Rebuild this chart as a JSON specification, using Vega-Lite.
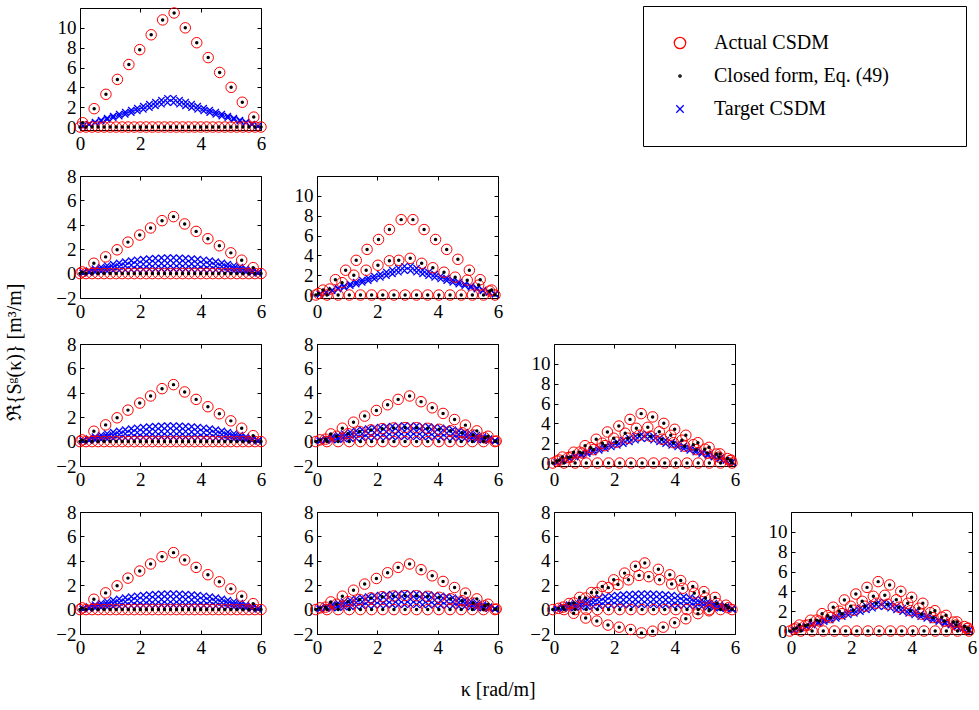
{
"$schema":"https://vega.github.io/schema/vega-lite/v6.json",
"background":"white",
"padding":{"left":5,"top":5,"right":0,"bottom":0},
"title":{"text":"ℜ{Sᵍ(κ)}  [m³/m]","orient":"left","anchor":"middle","offset":30,"font":"Liberation Serif","fontSize":20,"fontWeight":"normal","color":"#000000"},
"datasets":{
"act":[
{"g":"A","k":0.09,"v":0.43},{"g":"A","k":0.47,"v":1.85},{"g":"A","k":0.86,"v":3.3},{"g":"A","k":1.24,"v":4.8},{"g":"A","k":1.62,"v":6.3},{"g":"A","k":1.98,"v":7.8},{"g":"A","k":2.36,"v":9.3},{"g":"A","k":2.74,"v":10.8},{"g":"A","k":3.12,"v":11.5},{"g":"A","k":3.49,"v":10.0},{"g":"A","k":3.87,"v":8.5},{"g":"A","k":4.25,"v":7.0},{"g":"A","k":4.63,"v":5.5},{"g":"A","k":5.01,"v":4.0},{"g":"A","k":5.38,"v":2.5},{"g":"A","k":5.76,"v":1.0},
{"g":"B","k":0.07,"v":0.14},{"g":"B","k":0.46,"v":0.85},{"g":"B","k":0.85,"v":1.37},{"g":"B","k":1.23,"v":1.95},{"g":"B","k":1.59,"v":2.58},{"g":"B","k":1.98,"v":3.16},{"g":"B","k":2.34,"v":3.74},{"g":"B","k":2.72,"v":4.34},{"g":"B","k":3.1,"v":4.67},{"g":"B","k":3.47,"v":4.07},{"g":"B","k":3.85,"v":3.46},{"g":"B","k":4.24,"v":2.86},{"g":"B","k":4.62,"v":2.28},{"g":"B","k":5.0,"v":1.7},{"g":"B","k":5.36,"v":1.1},{"g":"B","k":5.74,"v":0.49},
{"g":"z1","k":0.0,"v":0},{"g":"z1","k":0.2,"v":0},{"g":"z1","k":0.4,"v":0},{"g":"z1","k":0.6,"v":0},{"g":"z1","k":0.8,"v":0},{"g":"z1","k":1.0,"v":0},{"g":"z1","k":1.2,"v":0},{"g":"z1","k":1.4,"v":0},{"g":"z1","k":1.6,"v":0},{"g":"z1","k":1.8,"v":0},{"g":"z1","k":2.0,"v":0},{"g":"z1","k":2.2,"v":0},{"g":"z1","k":2.4,"v":0},{"g":"z1","k":2.6,"v":0},{"g":"z1","k":2.8,"v":0},{"g":"z1","k":3.0,"v":0},{"g":"z1","k":3.2,"v":0},{"g":"z1","k":3.4,"v":0},{"g":"z1","k":3.6,"v":0},{"g":"z1","k":3.8,"v":0},{"g":"z1","k":4.0,"v":0},{"g":"z1","k":4.2,"v":0},{"g":"z1","k":4.4,"v":0},{"g":"z1","k":4.6,"v":0},{"g":"z1","k":4.8,"v":0},{"g":"z1","k":5.0,"v":0},{"g":"z1","k":5.2,"v":0},{"g":"z1","k":5.4,"v":0},{"g":"z1","k":5.6,"v":0},{"g":"z1","k":5.8,"v":0},{"g":"z1","k":6.0,"v":0},
{"g":"C","k":0.2,"v":0.5},{"g":"C","k":0.61,"v":1.55},{"g":"C","k":0.95,"v":2.5},{"g":"C","k":1.3,"v":3.5},{"g":"C","k":1.66,"v":4.6},{"g":"C","k":2.04,"v":5.6},{"g":"C","k":2.4,"v":6.6},{"g":"C","k":2.79,"v":7.6},{"g":"C","k":3.18,"v":7.6},{"g":"C","k":3.55,"v":6.6},{"g":"C","k":3.93,"v":5.6},{"g":"C","k":4.3,"v":4.6},{"g":"C","k":4.67,"v":3.6},{"g":"C","k":5.05,"v":2.5},{"g":"C","k":5.41,"v":1.55},{"g":"C","k":5.79,"v":0.5},
{"g":"C","k":0.05,"v":0.15},{"g":"C","k":0.42,"v":0.6},{"g":"C","k":0.83,"v":1.25},{"g":"C","k":1.22,"v":2.0},{"g":"C","k":1.63,"v":2.5},{"g":"C","k":2.02,"v":3.0},{"g":"C","k":2.4,"v":3.45},{"g":"C","k":2.71,"v":3.5},{"g":"C","k":3.09,"v":3.7},{"g":"C","k":3.47,"v":3.2},{"g":"C","k":3.84,"v":2.75},{"g":"C","k":4.21,"v":2.3},{"g":"C","k":4.58,"v":1.8},{"g":"C","k":4.98,"v":1.5},{"g":"C","k":5.36,"v":1.0},{"g":"C","k":5.72,"v":0.4},
{"g":"D","k":0.1,"v":0.14},{"g":"D","k":0.46,"v":0.63},{"g":"D","k":0.84,"v":1.1},{"g":"D","k":1.21,"v":1.59},{"g":"D","k":1.58,"v":2.09},{"g":"D","k":1.97,"v":2.55},{"g":"D","k":2.34,"v":3.02},{"g":"D","k":2.69,"v":3.46},{"g":"D","k":3.07,"v":3.74},{"g":"D","k":3.45,"v":3.27},{"g":"D","k":3.82,"v":2.77},{"g":"D","k":4.18,"v":2.31},{"g":"D","k":4.56,"v":1.81},{"g":"D","k":4.92,"v":1.35},{"g":"D","k":5.3,"v":0.88},{"g":"D","k":5.67,"v":0.44},
{"g":"D","k":0.28,"v":0.2},{"g":"D","k":0.65,"v":0.44},{"g":"D","k":1.03,"v":0.65},{"g":"D","k":1.41,"v":0.83},{"g":"D","k":1.79,"v":0.96},{"g":"D","k":2.16,"v":1.06},{"g":"D","k":2.54,"v":1.12},{"g":"D","k":2.92,"v":1.15},{"g":"D","k":3.3,"v":1.14},{"g":"D","k":3.67,"v":1.09},{"g":"D","k":4.05,"v":1.01},{"g":"D","k":4.43,"v":0.89},{"g":"D","k":4.81,"v":0.73},{"g":"D","k":5.18,"v":0.54},{"g":"D","k":5.56,"v":0.31},{"g":"D","k":5.94,"v":0.05},
{"g":"E","k":0.28,"v":0.6},{"g":"E","k":0.65,"v":1.09},{"g":"E","k":1.03,"v":1.75},{"g":"E","k":1.4,"v":2.4},{"g":"E","k":1.77,"v":3.13},{"g":"E","k":2.15,"v":3.73},{"g":"E","k":2.52,"v":4.4},{"g":"E","k":2.89,"v":4.98},{"g":"E","k":3.27,"v":4.65},{"g":"E","k":3.64,"v":4.0},{"g":"E","k":4.0,"v":3.4},{"g":"E","k":4.37,"v":2.8},{"g":"E","k":4.77,"v":2.05},{"g":"E","k":5.14,"v":1.58},{"g":"E","k":5.5,"v":0.92},{"g":"E","k":5.87,"v":0.3},
{"g":"E","k":0.09,"v":0.2},{"g":"E","k":0.47,"v":0.55},{"g":"E","k":0.85,"v":1.1},{"g":"E","k":1.22,"v":1.55},{"g":"E","k":1.6,"v":2.0},{"g":"E","k":1.98,"v":2.5},{"g":"E","k":2.36,"v":3.0},{"g":"E","k":2.73,"v":3.5},{"g":"E","k":3.11,"v":3.6},{"g":"E","k":3.49,"v":3.15},{"g":"E","k":3.87,"v":2.8},{"g":"E","k":4.24,"v":2.3},{"g":"E","k":4.62,"v":1.85},{"g":"E","k":5.0,"v":1.4},{"g":"E","k":5.38,"v":0.9},{"g":"E","k":5.75,"v":0.45},
{"g":"E","k":0.18,"v":0.3},{"g":"E","k":0.56,"v":0.6},{"g":"E","k":0.94,"v":1.0},{"g":"E","k":1.31,"v":1.35},{"g":"E","k":1.69,"v":1.75},{"g":"E","k":2.07,"v":2.1},{"g":"E","k":2.45,"v":2.5},{"g":"E","k":2.82,"v":2.8},{"g":"E","k":3.2,"v":2.7},{"g":"E","k":3.58,"v":2.4},{"g":"E","k":3.96,"v":2.05},{"g":"E","k":4.33,"v":1.7},{"g":"E","k":4.71,"v":1.35},{"g":"E","k":5.09,"v":1.0},{"g":"E","k":5.47,"v":0.6},{"g":"E","k":5.84,"v":0.25},
{"g":"F","k":0.15,"v":0.1},{"g":"F","k":0.5,"v":0.5},{"g":"F","k":0.85,"v":1.0},{"g":"F","k":1.24,"v":1.4},{"g":"F","k":1.6,"v":1.9},{"g":"F","k":1.98,"v":2.44},{"g":"F","k":2.34,"v":2.99},{"g":"F","k":2.7,"v":3.55},{"g":"F","k":3.01,"v":3.82},{"g":"F","k":3.46,"v":3.3},{"g":"F","k":3.84,"v":2.85},{"g":"F","k":4.2,"v":2.38},{"g":"F","k":4.6,"v":1.9},{"g":"F","k":4.97,"v":1.47},{"g":"F","k":5.34,"v":1.0},{"g":"F","k":5.7,"v":0.36},
{"g":"F","k":0.3,"v":0.2},{"g":"F","k":0.66,"v":0.55},{"g":"F","k":1.05,"v":0.95},{"g":"F","k":1.42,"v":1.4},{"g":"F","k":1.8,"v":1.8},{"g":"F","k":2.12,"v":2.05},{"g":"F","k":2.47,"v":2.44},{"g":"F","k":2.82,"v":2.8},{"g":"F","k":3.14,"v":2.7},{"g":"F","k":3.5,"v":2.45},{"g":"F","k":3.9,"v":2.1},{"g":"F","k":4.27,"v":1.75},{"g":"F","k":4.65,"v":1.35},{"g":"F","k":5.02,"v":0.95},{"g":"F","k":5.4,"v":0.5},{"g":"F","k":5.78,"v":0.15},
{"g":"F","k":0.65,"v":-0.3},{"g":"F","k":1.05,"v":-0.69},{"g":"F","k":1.42,"v":-0.94},{"g":"F","k":1.79,"v":-1.27},{"g":"F","k":2.16,"v":-1.44},{"g":"F","k":2.54,"v":-1.63},{"g":"F","k":2.9,"v":-1.91},{"g":"F","k":3.27,"v":-1.77},{"g":"F","k":3.62,"v":-1.44},{"g":"F","k":4.0,"v":-1.08},{"g":"F","k":4.37,"v":-0.75},{"g":"F","k":4.77,"v":-0.33},{"g":"F","k":5.14,"v":-0.1},
{"g":"z2","k":-0.04,"v":0},{"g":"z2","k":0.33,"v":0},{"g":"z2","k":0.7,"v":0},{"g":"z2","k":1.07,"v":0},{"g":"z2","k":1.44,"v":0},{"g":"z2","k":1.81,"v":0},{"g":"z2","k":2.18,"v":0},{"g":"z2","k":2.55,"v":0},{"g":"z2","k":2.92,"v":0},{"g":"z2","k":3.3,"v":0},{"g":"z2","k":3.67,"v":0},{"g":"z2","k":4.04,"v":0},{"g":"z2","k":4.41,"v":0},{"g":"z2","k":4.78,"v":0},{"g":"z2","k":5.15,"v":0},{"g":"z2","k":5.52,"v":0},{"g":"z2","k":5.9,"v":0}
],
"tgt":[
{"g":"tri","k":0.1,"v":0.1},{"g":"tri","k":0.3,"v":0.3},{"g":"tri","k":0.5,"v":0.5},{"g":"tri","k":0.7,"v":0.7},{"g":"tri","k":0.9,"v":0.9},{"g":"tri","k":1.1,"v":1.1},{"g":"tri","k":1.3,"v":1.3},{"g":"tri","k":1.5,"v":1.5},{"g":"tri","k":1.7,"v":1.7},{"g":"tri","k":1.9,"v":1.9},{"g":"tri","k":2.1,"v":2.1},{"g":"tri","k":2.3,"v":2.3},{"g":"tri","k":2.5,"v":2.5},{"g":"tri","k":2.7,"v":2.7},{"g":"tri","k":2.9,"v":2.9},{"g":"tri","k":3.1,"v":2.9},{"g":"tri","k":3.3,"v":2.7},{"g":"tri","k":3.5,"v":2.5},{"g":"tri","k":3.7,"v":2.3},{"g":"tri","k":3.9,"v":2.1},{"g":"tri","k":4.1,"v":1.9},{"g":"tri","k":4.3,"v":1.7},{"g":"tri","k":4.5,"v":1.5},{"g":"tri","k":4.7,"v":1.3},{"g":"tri","k":4.9,"v":1.1},{"g":"tri","k":5.1,"v":0.9},{"g":"tri","k":5.3,"v":0.7},{"g":"tri","k":5.5,"v":0.5},{"g":"tri","k":5.7,"v":0.3},{"g":"tri","k":5.9,"v":0.1},
{"g":"tri","k":0.1,"v":0.09},{"g":"tri","k":0.3,"v":0.26},{"g":"tri","k":0.5,"v":0.43},{"g":"tri","k":0.7,"v":0.6},{"g":"tri","k":0.9,"v":0.77},{"g":"tri","k":1.1,"v":0.94},{"g":"tri","k":1.3,"v":1.11},{"g":"tri","k":1.5,"v":1.28},{"g":"tri","k":1.7,"v":1.45},{"g":"tri","k":1.9,"v":1.62},{"g":"tri","k":2.1,"v":1.79},{"g":"tri","k":2.3,"v":1.96},{"g":"tri","k":2.5,"v":2.13},{"g":"tri","k":2.7,"v":2.3},{"g":"tri","k":2.9,"v":2.47},{"g":"tri","k":3.1,"v":2.47},{"g":"tri","k":3.3,"v":2.3},{"g":"tri","k":3.5,"v":2.13},{"g":"tri","k":3.7,"v":1.96},{"g":"tri","k":3.9,"v":1.79},{"g":"tri","k":4.1,"v":1.62},{"g":"tri","k":4.3,"v":1.45},{"g":"tri","k":4.5,"v":1.28},{"g":"tri","k":4.7,"v":1.11},{"g":"tri","k":4.9,"v":0.94},{"g":"tri","k":5.1,"v":0.77},{"g":"tri","k":5.3,"v":0.6},{"g":"tri","k":5.5,"v":0.43},{"g":"tri","k":5.7,"v":0.26},{"g":"tri","k":5.9,"v":0.09},
{"g":"dome","k":0.1,"v":0.09},{"g":"dome","k":0.3,"v":0.25},{"g":"dome","k":0.5,"v":0.4},{"g":"dome","k":0.7,"v":0.54},{"g":"dome","k":0.9,"v":0.66},{"g":"dome","k":1.1,"v":0.78},{"g":"dome","k":1.3,"v":0.88},{"g":"dome","k":1.5,"v":0.98},{"g":"dome","k":1.7,"v":1.06},{"g":"dome","k":1.9,"v":1.13},{"g":"dome","k":2.1,"v":1.18},{"g":"dome","k":2.3,"v":1.23},{"g":"dome","k":2.5,"v":1.26},{"g":"dome","k":2.7,"v":1.29},{"g":"dome","k":2.9,"v":1.3},{"g":"dome","k":3.1,"v":1.3},{"g":"dome","k":3.3,"v":1.29},{"g":"dome","k":3.5,"v":1.26},{"g":"dome","k":3.7,"v":1.23},{"g":"dome","k":3.9,"v":1.18},{"g":"dome","k":4.1,"v":1.13},{"g":"dome","k":4.3,"v":1.06},{"g":"dome","k":4.5,"v":0.98},{"g":"dome","k":4.7,"v":0.88},{"g":"dome","k":4.9,"v":0.78},{"g":"dome","k":5.1,"v":0.66},{"g":"dome","k":5.3,"v":0.54},{"g":"dome","k":5.5,"v":0.4},{"g":"dome","k":5.7,"v":0.25},{"g":"dome","k":5.9,"v":0.09},
{"g":"dome","k":0.1,"v":0.06},{"g":"dome","k":0.3,"v":0.16},{"g":"dome","k":0.5,"v":0.26},{"g":"dome","k":0.7,"v":0.35},{"g":"dome","k":0.9,"v":0.43},{"g":"dome","k":1.1,"v":0.51},{"g":"dome","k":1.3,"v":0.58},{"g":"dome","k":1.5,"v":0.64},{"g":"dome","k":1.7,"v":0.69},{"g":"dome","k":1.9,"v":0.74},{"g":"dome","k":2.1,"v":0.77},{"g":"dome","k":2.3,"v":0.8},{"g":"dome","k":2.5,"v":0.83},{"g":"dome","k":2.7,"v":0.84},{"g":"dome","k":2.9,"v":0.85},{"g":"dome","k":3.1,"v":0.85},{"g":"dome","k":3.3,"v":0.84},{"g":"dome","k":3.5,"v":0.83},{"g":"dome","k":3.7,"v":0.8},{"g":"dome","k":3.9,"v":0.77},{"g":"dome","k":4.1,"v":0.74},{"g":"dome","k":4.3,"v":0.69},{"g":"dome","k":4.5,"v":0.64},{"g":"dome","k":4.7,"v":0.58},{"g":"dome","k":4.9,"v":0.51},{"g":"dome","k":5.1,"v":0.43},{"g":"dome","k":5.3,"v":0.35},{"g":"dome","k":5.5,"v":0.26},{"g":"dome","k":5.7,"v":0.16},{"g":"dome","k":5.9,"v":0.06},
{"g":"dome","k":0.1,"v":0.03},{"g":"dome","k":0.3,"v":0.08},{"g":"dome","k":0.5,"v":0.12},{"g":"dome","k":0.7,"v":0.16},{"g":"dome","k":0.9,"v":0.2},{"g":"dome","k":1.1,"v":0.24},{"g":"dome","k":1.3,"v":0.27},{"g":"dome","k":1.5,"v":0.3},{"g":"dome","k":1.7,"v":0.32},{"g":"dome","k":1.9,"v":0.35},{"g":"dome","k":2.1,"v":0.36},{"g":"dome","k":2.3,"v":0.38},{"g":"dome","k":2.5,"v":0.39},{"g":"dome","k":2.7,"v":0.4},{"g":"dome","k":2.9,"v":0.4},{"g":"dome","k":3.1,"v":0.4},{"g":"dome","k":3.3,"v":0.4},{"g":"dome","k":3.5,"v":0.39},{"g":"dome","k":3.7,"v":0.38},{"g":"dome","k":3.9,"v":0.36},{"g":"dome","k":4.1,"v":0.35},{"g":"dome","k":4.3,"v":0.32},{"g":"dome","k":4.5,"v":0.3},{"g":"dome","k":4.7,"v":0.27},{"g":"dome","k":4.9,"v":0.24},{"g":"dome","k":5.1,"v":0.2},{"g":"dome","k":5.3,"v":0.16},{"g":"dome","k":5.5,"v":0.12},{"g":"dome","k":5.7,"v":0.08},{"g":"dome","k":5.9,"v":0.03}
]
},
"vconcat":[
{"title":{"text":"κ [rad/m]","orient":"bottom","anchor":"middle","offset":22,"dx":-18,"font":"Liberation Serif","fontSize":20,"fontWeight":"normal","color":"#000000"},
"columns":4,"spacing":{"row":46,"column":56},"bounds":"flush","align":"all",
"concat":[
{"width":181,"height":122,"layer":[
 {"data":{"name":"tgt"},"transform":[{"filter":"datum.g==='tri'"}],"mark":{"type":"point","shape":"M-1,-1L1,1M-1,1L1,-1","filled":false,"size":40,"strokeWidth":1.3,"color":"#0000ff"},
  "encoding":{"x":{"field":"k","type":"quantitative","scale":{"domain":[0,6]},"axis":null},"y":{"field":"v","type":"quantitative","scale":{"domain":[-0.3,12]},"axis":null}}},
 {"data":{"name":"act"},"transform":[{"filter":"datum.g==='A'||datum.g==='z1'"}],"mark":{"type":"point","filled":false,"size":110,"strokeWidth":1},
  "encoding":{"x":{"field":"k","type":"quantitative","scale":{"domain":[0,6]},"axis":{"values":[0,2,4,6],"title":null}},"y":{"field":"v","type":"quantitative","scale":{"domain":[-0.3,12]},"axis":{"values":[0,2,4,6,8,10],"title":null}},
  "color":{"datum":"Actual CSDM","type":"nominal","scale":{"domain":["Actual CSDM","Closed form, Eq. (49)","Target CSDM"],"range":["#ff0000","#000000","#0000ff"]},
   "legend":{"orient":"none","legendX":563,"legendY":-2,"title":" ","titleOrient":"right","titlePadding":50,"titleFontSize":10,"padding":27,"strokeColor":"#000000","fillColor":"#ffffff","labelFont":"Liberation Serif","labelFontSize":20,"labelColor":"#000000","labelOffset":24,"labelLimit":500,"rowPadding":13,"symbolStrokeWidth":1.3,"symbolSize":130}},
  "shape":{"datum":"Actual CSDM","type":"nominal","scale":{"domain":["Actual CSDM","Closed form, Eq. (49)","Target CSDM"],"range":["circle","M0,-0.2A0.2,0.2,0,1,1,0,0.2A0.2,0.2,0,1,1,0,-0.2Z","M-0.65,-0.65L0.65,0.65M-0.65,0.65L0.65,-0.65"]},
   "legend":{"orient":"none","legendX":563,"legendY":-2,"title":" ","titleOrient":"right","titlePadding":50,"titleFontSize":10,"padding":27,"strokeColor":"#000000","fillColor":"#ffffff","labelFont":"Liberation Serif","labelFontSize":20,"labelColor":"#000000","labelOffset":24,"labelLimit":500,"rowPadding":13,"symbolStrokeWidth":1.3,"symbolSize":130}}}},
 {"data":{"name":"act"},"transform":[{"filter":"datum.g==='A'||datum.g==='z1'"}],"mark":{"type":"point","shape":"circle","filled":true,"size":12,"color":"#000000"},
  "encoding":{"x":{"field":"k","type":"quantitative","scale":{"domain":[0,6]},"axis":{"orient":"top","values":[0,2,4,6],"labels":false,"title":null}},"y":{"field":"v","type":"quantitative","scale":{"domain":[-0.3,12]},"axis":{"orient":"right","values":[0,2,4,6,8,10],"labels":false,"title":null}}}}
],"resolve":{"axis":{"x":"independent","y":"independent"}}},
{"width":181,"height":122,"data":{"values":[]},"mark":"point","view":{"stroke":null}},
{"width":181,"height":122,"data":{"values":[]},"mark":"point","view":{"stroke":null}},
{"width":181,"height":122,"data":{"values":[]},"mark":"point","view":{"stroke":null}},
{"width":181,"height":122,"layer":[
 {"data":{"name":"tgt"},"transform":[{"filter":"datum.g==='dome'"}],"mark":{"type":"point","shape":"M-1,-1L1,1M-1,1L1,-1","filled":false,"size":40,"strokeWidth":1.3,"color":"#0000ff"},
  "encoding":{"x":{"field":"k","type":"quantitative","scale":{"domain":[0,6]},"axis":null},"y":{"field":"v","type":"quantitative","scale":{"domain":[-2,8]},"axis":null}}},
 {"data":{"name":"act"},"transform":[{"filter":"datum.g==='B'||datum.g==='z1'"}],"mark":{"type":"point","shape":"circle","filled":false,"size":110,"strokeWidth":1,"color":"#ff0000"},
  "encoding":{"x":{"field":"k","type":"quantitative","scale":{"domain":[0,6]},"axis":{"values":[0,2,4,6],"title":null}},"y":{"field":"v","type":"quantitative","scale":{"domain":[-2,8]},"axis":{"values":[-2,0,2,4,6,8],"title":null}}}},
 {"data":{"name":"act"},"transform":[{"filter":"datum.g==='B'||datum.g==='z1'"}],"mark":{"type":"point","shape":"circle","filled":true,"size":12,"color":"#000000"},
  "encoding":{"x":{"field":"k","type":"quantitative","scale":{"domain":[0,6]},"axis":{"orient":"top","values":[0,2,4,6],"labels":false,"title":null}},"y":{"field":"v","type":"quantitative","scale":{"domain":[-2,8]},"axis":{"orient":"right","values":[-2,0,2,4,6,8],"labels":false,"title":null}}}}
],"resolve":{"axis":{"x":"independent","y":"independent"}}},
{"width":181,"height":122,"layer":[
 {"data":{"name":"tgt"},"transform":[{"filter":"datum.g==='tri'"}],"mark":{"type":"point","shape":"M-1,-1L1,1M-1,1L1,-1","filled":false,"size":40,"strokeWidth":1.3,"color":"#0000ff"},
  "encoding":{"x":{"field":"k","type":"quantitative","scale":{"domain":[0,6]},"axis":null},"y":{"field":"v","type":"quantitative","scale":{"domain":[-0.3,12]},"axis":null}}},
 {"data":{"name":"act"},"transform":[{"filter":"datum.g==='C'||datum.g==='z2'"}],"mark":{"type":"point","shape":"circle","filled":false,"size":110,"strokeWidth":1,"color":"#ff0000"},
  "encoding":{"x":{"field":"k","type":"quantitative","scale":{"domain":[0,6]},"axis":{"values":[0,2,4,6],"title":null}},"y":{"field":"v","type":"quantitative","scale":{"domain":[-0.3,12]},"axis":{"values":[0,2,4,6,8,10],"title":null}}}},
 {"data":{"name":"act"},"transform":[{"filter":"datum.g==='C'||datum.g==='z2'"}],"mark":{"type":"point","shape":"circle","filled":true,"size":12,"color":"#000000"},
  "encoding":{"x":{"field":"k","type":"quantitative","scale":{"domain":[0,6]},"axis":{"orient":"top","values":[0,2,4,6],"labels":false,"title":null}},"y":{"field":"v","type":"quantitative","scale":{"domain":[-0.3,12]},"axis":{"orient":"right","values":[0,2,4,6,8,10],"labels":false,"title":null}}}}
],"resolve":{"axis":{"x":"independent","y":"independent"}}},
{"width":181,"height":122,"data":{"values":[]},"mark":"point","view":{"stroke":null}},
{"width":181,"height":122,"data":{"values":[]},"mark":"point","view":{"stroke":null}},
{"width":181,"height":122,"layer":[
 {"data":{"name":"tgt"},"transform":[{"filter":"datum.g==='dome'"}],"mark":{"type":"point","shape":"M-1,-1L1,1M-1,1L1,-1","filled":false,"size":40,"strokeWidth":1.3,"color":"#0000ff"},
  "encoding":{"x":{"field":"k","type":"quantitative","scale":{"domain":[0,6]},"axis":null},"y":{"field":"v","type":"quantitative","scale":{"domain":[-2,8]},"axis":null}}},
 {"data":{"name":"act"},"transform":[{"filter":"datum.g==='B'||datum.g==='z1'"}],"mark":{"type":"point","shape":"circle","filled":false,"size":110,"strokeWidth":1,"color":"#ff0000"},
  "encoding":{"x":{"field":"k","type":"quantitative","scale":{"domain":[0,6]},"axis":{"values":[0,2,4,6],"title":null}},"y":{"field":"v","type":"quantitative","scale":{"domain":[-2,8]},"axis":{"values":[-2,0,2,4,6,8],"title":null}}}},
 {"data":{"name":"act"},"transform":[{"filter":"datum.g==='B'||datum.g==='z1'"}],"mark":{"type":"point","shape":"circle","filled":true,"size":12,"color":"#000000"},
  "encoding":{"x":{"field":"k","type":"quantitative","scale":{"domain":[0,6]},"axis":{"orient":"top","values":[0,2,4,6],"labels":false,"title":null}},"y":{"field":"v","type":"quantitative","scale":{"domain":[-2,8]},"axis":{"orient":"right","values":[-2,0,2,4,6,8],"labels":false,"title":null}}}}
],"resolve":{"axis":{"x":"independent","y":"independent"}}},
{"width":181,"height":122,"layer":[
 {"data":{"name":"tgt"},"transform":[{"filter":"datum.g==='dome'"}],"mark":{"type":"point","shape":"M-1,-1L1,1M-1,1L1,-1","filled":false,"size":40,"strokeWidth":1.3,"color":"#0000ff"},
  "encoding":{"x":{"field":"k","type":"quantitative","scale":{"domain":[0,6]},"axis":null},"y":{"field":"v","type":"quantitative","scale":{"domain":[-2,8]},"axis":null}}},
 {"data":{"name":"act"},"transform":[{"filter":"datum.g==='D'||datum.g==='z2'"}],"mark":{"type":"point","shape":"circle","filled":false,"size":110,"strokeWidth":1,"color":"#ff0000"},
  "encoding":{"x":{"field":"k","type":"quantitative","scale":{"domain":[0,6]},"axis":{"values":[0,2,4,6],"title":null}},"y":{"field":"v","type":"quantitative","scale":{"domain":[-2,8]},"axis":{"values":[-2,0,2,4,6,8],"title":null}}}},
 {"data":{"name":"act"},"transform":[{"filter":"datum.g==='D'||datum.g==='z2'"}],"mark":{"type":"point","shape":"circle","filled":true,"size":12,"color":"#000000"},
  "encoding":{"x":{"field":"k","type":"quantitative","scale":{"domain":[0,6]},"axis":{"orient":"top","values":[0,2,4,6],"labels":false,"title":null}},"y":{"field":"v","type":"quantitative","scale":{"domain":[-2,8]},"axis":{"orient":"right","values":[-2,0,2,4,6,8],"labels":false,"title":null}}}}
],"resolve":{"axis":{"x":"independent","y":"independent"}}},
{"width":181,"height":122,"layer":[
 {"data":{"name":"tgt"},"transform":[{"filter":"datum.g==='tri'"}],"mark":{"type":"point","shape":"M-1,-1L1,1M-1,1L1,-1","filled":false,"size":40,"strokeWidth":1.3,"color":"#0000ff"},
  "encoding":{"x":{"field":"k","type":"quantitative","scale":{"domain":[0,6]},"axis":null},"y":{"field":"v","type":"quantitative","scale":{"domain":[-0.3,12]},"axis":null}}},
 {"data":{"name":"act"},"transform":[{"filter":"datum.g==='E'||datum.g==='z2'"}],"mark":{"type":"point","shape":"circle","filled":false,"size":110,"strokeWidth":1,"color":"#ff0000"},
  "encoding":{"x":{"field":"k","type":"quantitative","scale":{"domain":[0,6]},"axis":{"values":[0,2,4,6],"title":null}},"y":{"field":"v","type":"quantitative","scale":{"domain":[-0.3,12]},"axis":{"values":[0,2,4,6,8,10],"title":null}}}},
 {"data":{"name":"act"},"transform":[{"filter":"datum.g==='E'||datum.g==='z2'"}],"mark":{"type":"point","shape":"circle","filled":true,"size":12,"color":"#000000"},
  "encoding":{"x":{"field":"k","type":"quantitative","scale":{"domain":[0,6]},"axis":{"orient":"top","values":[0,2,4,6],"labels":false,"title":null}},"y":{"field":"v","type":"quantitative","scale":{"domain":[-0.3,12]},"axis":{"orient":"right","values":[0,2,4,6,8,10],"labels":false,"title":null}}}}
],"resolve":{"axis":{"x":"independent","y":"independent"}}},
{"width":181,"height":122,"data":{"values":[]},"mark":"point","view":{"stroke":null}},
{"width":181,"height":122,"layer":[
 {"data":{"name":"tgt"},"transform":[{"filter":"datum.g==='dome'"}],"mark":{"type":"point","shape":"M-1,-1L1,1M-1,1L1,-1","filled":false,"size":40,"strokeWidth":1.3,"color":"#0000ff"},
  "encoding":{"x":{"field":"k","type":"quantitative","scale":{"domain":[0,6]},"axis":null},"y":{"field":"v","type":"quantitative","scale":{"domain":[-2,8]},"axis":null}}},
 {"data":{"name":"act"},"transform":[{"filter":"datum.g==='B'||datum.g==='z1'"}],"mark":{"type":"point","shape":"circle","filled":false,"size":110,"strokeWidth":1,"color":"#ff0000"},
  "encoding":{"x":{"field":"k","type":"quantitative","scale":{"domain":[0,6]},"axis":{"values":[0,2,4,6],"title":null}},"y":{"field":"v","type":"quantitative","scale":{"domain":[-2,8]},"axis":{"values":[-2,0,2,4,6,8],"title":null}}}},
 {"data":{"name":"act"},"transform":[{"filter":"datum.g==='B'||datum.g==='z1'"}],"mark":{"type":"point","shape":"circle","filled":true,"size":12,"color":"#000000"},
  "encoding":{"x":{"field":"k","type":"quantitative","scale":{"domain":[0,6]},"axis":{"orient":"top","values":[0,2,4,6],"labels":false,"title":null}},"y":{"field":"v","type":"quantitative","scale":{"domain":[-2,8]},"axis":{"orient":"right","values":[-2,0,2,4,6,8],"labels":false,"title":null}}}}
],"resolve":{"axis":{"x":"independent","y":"independent"}}},
{"width":181,"height":122,"layer":[
 {"data":{"name":"tgt"},"transform":[{"filter":"datum.g==='dome'"}],"mark":{"type":"point","shape":"M-1,-1L1,1M-1,1L1,-1","filled":false,"size":40,"strokeWidth":1.3,"color":"#0000ff"},
  "encoding":{"x":{"field":"k","type":"quantitative","scale":{"domain":[0,6]},"axis":null},"y":{"field":"v","type":"quantitative","scale":{"domain":[-2,8]},"axis":null}}},
 {"data":{"name":"act"},"transform":[{"filter":"datum.g==='D'||datum.g==='z2'"}],"mark":{"type":"point","shape":"circle","filled":false,"size":110,"strokeWidth":1,"color":"#ff0000"},
  "encoding":{"x":{"field":"k","type":"quantitative","scale":{"domain":[0,6]},"axis":{"values":[0,2,4,6],"title":null}},"y":{"field":"v","type":"quantitative","scale":{"domain":[-2,8]},"axis":{"values":[-2,0,2,4,6,8],"title":null}}}},
 {"data":{"name":"act"},"transform":[{"filter":"datum.g==='D'||datum.g==='z2'"}],"mark":{"type":"point","shape":"circle","filled":true,"size":12,"color":"#000000"},
  "encoding":{"x":{"field":"k","type":"quantitative","scale":{"domain":[0,6]},"axis":{"orient":"top","values":[0,2,4,6],"labels":false,"title":null}},"y":{"field":"v","type":"quantitative","scale":{"domain":[-2,8]},"axis":{"orient":"right","values":[-2,0,2,4,6,8],"labels":false,"title":null}}}}
],"resolve":{"axis":{"x":"independent","y":"independent"}}},
{"width":181,"height":122,"layer":[
 {"data":{"name":"tgt"},"transform":[{"filter":"datum.g==='dome'"}],"mark":{"type":"point","shape":"M-1,-1L1,1M-1,1L1,-1","filled":false,"size":40,"strokeWidth":1.3,"color":"#0000ff"},
  "encoding":{"x":{"field":"k","type":"quantitative","scale":{"domain":[0,6]},"axis":null},"y":{"field":"v","type":"quantitative","scale":{"domain":[-2,8]},"axis":null}}},
 {"data":{"name":"act"},"transform":[{"filter":"datum.g==='F'||datum.g==='z2'"}],"mark":{"type":"point","shape":"circle","filled":false,"size":110,"strokeWidth":1,"color":"#ff0000"},
  "encoding":{"x":{"field":"k","type":"quantitative","scale":{"domain":[0,6]},"axis":{"values":[0,2,4,6],"title":null}},"y":{"field":"v","type":"quantitative","scale":{"domain":[-2,8]},"axis":{"values":[-2,0,2,4,6,8],"title":null}}}},
 {"data":{"name":"act"},"transform":[{"filter":"datum.g==='F'||datum.g==='z2'"}],"mark":{"type":"point","shape":"circle","filled":true,"size":12,"color":"#000000"},
  "encoding":{"x":{"field":"k","type":"quantitative","scale":{"domain":[0,6]},"axis":{"orient":"top","values":[0,2,4,6],"labels":false,"title":null}},"y":{"field":"v","type":"quantitative","scale":{"domain":[-2,8]},"axis":{"orient":"right","values":[-2,0,2,4,6,8],"labels":false,"title":null}}}}
],"resolve":{"axis":{"x":"independent","y":"independent"}}},
{"width":181,"height":122,"layer":[
 {"data":{"name":"tgt"},"transform":[{"filter":"datum.g==='tri'"}],"mark":{"type":"point","shape":"M-1,-1L1,1M-1,1L1,-1","filled":false,"size":40,"strokeWidth":1.3,"color":"#0000ff"},
  "encoding":{"x":{"field":"k","type":"quantitative","scale":{"domain":[0,6]},"axis":null},"y":{"field":"v","type":"quantitative","scale":{"domain":[-0.3,12]},"axis":null}}},
 {"data":{"name":"act"},"transform":[{"filter":"datum.g==='E'||datum.g==='z2'"}],"mark":{"type":"point","shape":"circle","filled":false,"size":110,"strokeWidth":1,"color":"#ff0000"},
  "encoding":{"x":{"field":"k","type":"quantitative","scale":{"domain":[0,6]},"axis":{"values":[0,2,4,6],"title":null}},"y":{"field":"v","type":"quantitative","scale":{"domain":[-0.3,12]},"axis":{"values":[0,2,4,6,8,10],"title":null}}}},
 {"data":{"name":"act"},"transform":[{"filter":"datum.g==='E'||datum.g==='z2'"}],"mark":{"type":"point","shape":"circle","filled":true,"size":12,"color":"#000000"},
  "encoding":{"x":{"field":"k","type":"quantitative","scale":{"domain":[0,6]},"axis":{"orient":"top","values":[0,2,4,6],"labels":false,"title":null}},"y":{"field":"v","type":"quantitative","scale":{"domain":[-0.3,12]},"axis":{"orient":"right","values":[0,2,4,6,8,10],"labels":false,"title":null}}}}
],"resolve":{"axis":{"x":"independent","y":"independent"}}}
]}
],
"config":{
 "font":"Liberation Serif",
 "view":{"stroke":"#000000","strokeWidth":1},
 "point":{"opacity":1},
 "axis":{"domain":false,"grid":false,"tickColor":"#000000","tickSize":-4,"tickWidth":1,"labelFont":"Liberation Serif","labelFontSize":19,"labelColor":"#000000","labelPadding":8,"labelFlush":false,"labelOverlap":false}
}
}
